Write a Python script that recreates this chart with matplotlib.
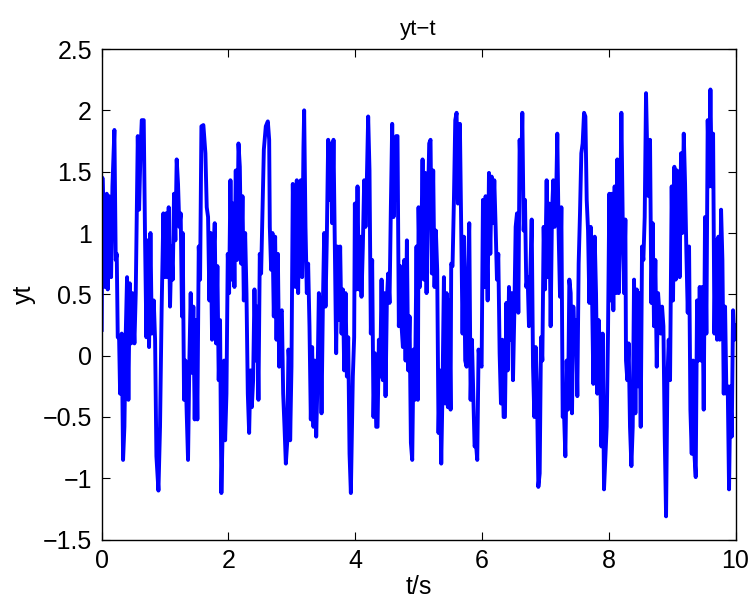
import matplotlib
matplotlib.use("Agg")
import matplotlib.pyplot as plt
from matplotlib.ticker import FuncFormatter

plt.rcParams['font.family'] = ['Liberation Sans', 'DejaVu Sans']

t = [
    0.000, 0.011, 0.053, 0.079, 0.095, 0.116, 0.148, 0.169, 0.200, 0.221, 0.237, 0.253, 0.274, 0.290, 0.316, 0.337,
    0.358, 0.379, 0.400, 0.421, 0.442, 0.463, 0.484, 0.516, 0.537, 0.569, 0.590, 0.611, 0.632, 0.663, 0.684, 0.705,
    0.726, 0.747, 0.769, 0.790, 0.821, 0.842, 0.863, 0.895,
    0.920, 0.946, 0.973, 0.994, 1.015, 1.036, 1.057, 1.078, 1.099, 1.120, 1.141, 1.162, 1.183, 1.204, 1.225, 1.246,
    1.267, 1.278, 1.299, 1.320, 1.341, 1.362, 1.383, 1.404, 1.425, 1.446, 1.467, 1.488, 1.509, 1.531, 1.552, 1.573,
    1.604, 1.636, 1.657, 1.678, 1.699, 1.720, 1.741, 1.762, 1.783, 1.804, 1.825, 1.846, 1.867, 1.888, 1.909, 1.931,
    1.947, 1.968, 1.989, 2.010, 2.031, 2.052, 2.073, 2.094, 2.115, 2.136, 2.158, 2.179, 2.200, 2.221, 2.242, 2.263,
    2.284, 2.305, 2.326, 2.347, 2.368, 2.389, 2.410, 2.431, 2.452, 2.473, 2.494, 2.515, 2.536, 2.558, 2.589, 2.621,
    2.642, 2.652, 2.673, 2.694, 2.715, 2.736, 2.758, 2.779, 2.800, 2.821, 2.842, 2.863, 2.884, 2.905, 2.926, 2.947, 2.968,
    2.973, 2.994, 3.015, 3.036, 3.057, 3.078, 3.099, 3.120, 3.141, 3.162, 3.183, 3.194, 3.215, 3.236, 3.257, 3.278,
    3.299, 3.320, 3.341, 3.362, 3.384, 3.405, 3.426, 3.447, 3.468, 3.489, 3.510, 3.531, 3.552, 3.573, 3.594, 3.615,
    3.636, 3.657, 3.678, 3.699, 3.720, 3.741, 3.762, 3.784, 3.805, 3.826, 3.847, 3.868, 3.889, 3.910, 3.931,
    3.962, 3.983, 3.994, 4.015, 4.036, 4.057, 4.078, 4.099, 4.120, 4.141, 4.162, 4.183, 4.204, 4.225, 4.246, 4.267,
    4.288, 4.309, 4.331, 4.352, 4.373, 4.394, 4.415, 4.436, 4.457, 4.478, 4.499, 4.520, 4.541, 4.562, 4.583, 4.604,
    4.625, 4.646, 4.667, 4.688, 4.709, 4.731, 4.752, 4.773, 4.794, 4.815, 4.836, 4.857, 4.878, 4.899, 4.920, 4.941,
    4.967, 4.988, 4.999, 5.020, 5.041, 5.062, 5.083, 5.104, 5.125, 5.146, 5.167, 5.188, 5.209, 5.230, 5.251, 5.272,
    5.293, 5.314, 5.335, 5.357, 5.378, 5.399, 5.420, 5.441, 5.462, 5.483, 5.504, 5.514, 5.535, 5.557, 5.578, 5.599,
    5.620, 5.651, 5.672, 5.693, 5.714, 5.735, 5.757, 5.778, 5.799, 5.820, 5.841, 5.862, 5.883, 5.904, 5.925, 5.946, 5.967,
    5.994, 6.015, 6.036, 6.057, 6.078, 6.089, 6.110, 6.131, 6.152, 6.173, 6.194, 6.215, 6.236, 6.257, 6.278, 6.299,
    6.320, 6.341, 6.362, 6.384, 6.405, 6.426, 6.447, 6.468, 6.489, 6.510, 6.531, 6.552, 6.573, 6.594, 6.615, 6.636,
    6.657, 6.678, 6.699, 6.720, 6.741, 6.762, 6.784, 6.805, 6.826, 6.847, 6.868, 6.889, 6.910, 6.931, 6.952, 6.973, 6.994,
    7.020, 7.041, 7.062, 7.083, 7.104, 7.125, 7.146, 7.167, 7.188, 7.209, 7.231, 7.252, 7.273, 7.294, 7.315, 7.336,
    7.357, 7.378, 7.399, 7.420, 7.441, 7.462, 7.483, 7.504, 7.525, 7.546, 7.567, 7.588, 7.610, 7.631, 7.652, 7.673,
    7.694, 7.715, 7.736, 7.757, 7.778, 7.799, 7.820, 7.841, 7.862, 7.883, 7.904, 7.925,
    7.967, 7.988, 8.009, 8.030, 8.051, 8.072, 8.093, 8.114, 8.135, 8.156, 8.178, 8.199, 8.220, 8.241, 8.262, 8.272,
    8.293, 8.314, 8.335, 8.357, 8.378, 8.399, 8.420, 8.441, 8.462, 8.483, 8.504, 8.525, 8.546, 8.567, 8.588, 8.609,
    8.630, 8.651, 8.672, 8.693, 8.714, 8.735, 8.757, 8.778, 8.799, 8.820, 8.841, 8.862, 8.883, 8.904, 8.925, 8.946, 8.967,
    8.993, 9.014, 9.035, 9.056, 9.077, 9.098, 9.119, 9.140, 9.161, 9.183, 9.204, 9.225, 9.246, 9.267, 9.288, 9.309,
    9.330, 9.351, 9.372, 9.393, 9.414, 9.435, 9.456, 9.477, 9.498, 9.519, 9.540, 9.561, 9.583, 9.604, 9.625, 9.646,
    9.667, 9.688, 9.709, 9.730, 9.751, 9.772, 9.793, 9.814, 9.835, 9.856, 9.877, 9.898, 9.919, 9.940, 9.961, 9.982, 10.000,
]

yt = [
    0.21, 1.45, 0.56, 1.32, 0.54, 1.30, 0.64, 1.38, 1.84, 0.78, 0.83, 0.15, 0.15, -0.31, 0.18, -0.85,
    -0.58, 0.18, 0.64, -0.36, 0.59, 0.10, 0.51, 0.10, 0.51, 1.79, 1.19, 1.65, 1.92, 1.92, 0.94, 0.15,
    0.94, 0.07, 1.00, 0.18, 0.45, 0.13, -0.82, -1.10,
    -0.58, 0.40, 1.16, 0.64, 1.16, 0.64, 1.21, 0.40, 0.89, 0.62, 1.32, 0.94, 1.60, 1.40, 1.05, 1.16,
    0.32, 1.00, -0.36, -0.04, -0.47, -0.85, -0.04, 0.51, -0.14, 0.40, -0.52, 0.29, -0.52, 0.89, 0.62, 1.87,
    1.88, 1.65, 1.21, 1.13, 0.45, 1.00, 0.13, 0.78, 1.08, 0.10, 0.73, -0.20, 0.29, -1.12, -0.58, -0.04,
    -0.69, -0.31, 0.83, 0.51, 1.43, 0.62, 1.24, 0.56, 1.51, 0.78, 1.73, 1.54, 0.75, 1.30, 0.45, 1.00,
    0.51, -0.31, -0.63, -0.12, -0.42, -0.20, 0.54, -0.04, 0.40, -0.36, 0.83, 0.67, 1.16, 1.68, 1.87, 1.91,
    1.76, 1.05, 0.70, 1.00, 0.32, 0.97, 0.13, 0.83, -0.09, 0.35, 0.37, -0.31, -0.58, -0.88, -0.71, 0.05, -0.14,
    -0.69, -0.09, 1.40, 0.73, 0.56, 1.43, 0.51, 1.38, 1.43, 0.64, 1.70, 2.00, 1.05, 0.51, 0.75, 0.24,
    -0.52, 0.07, -0.58, -0.04, -0.66, -0.20, 0.51, 0.40, -0.47, 0.40, 1.00, 0.40, 0.97, 1.76, 1.27, 1.73,
    1.08, 1.76, 0.89, 0.02, 0.89, 0.29, 0.89, 0.18, 0.54, -0.12, 0.51, -0.17, 0.15, -0.80, -1.12,
    -0.17, 0.15, 1.24, 0.54, 1.38, 0.54, 0.97, 0.48, 0.89, 1.43, 1.05, 1.43, 1.95, 1.51, 0.18, 0.78,
    -0.50, 0.02, -0.58, -0.58, 0.13, -0.17, 0.62, -0.20, 0.51, -0.33, 0.45, 0.67, 0.43, 1.21, 1.89, 1.13,
    1.43, 1.79, 1.79, 0.24, 0.73, 0.24, 0.07, 0.78, -0.04, 0.94, -0.12, 0.32, -0.71, -0.85, 0.05, -0.36,
    0.89, -0.36, 1.21, 0.56, 0.89, 1.60, 0.62, 1.49, 0.51, 1.21, 1.73, 1.76, 0.67, 1.51, 0.56, 1.02,
    0.70, -0.63, -0.12, -0.88, -0.25, 0.64, -0.39, 0.51, -0.42, 0.45, -0.44, 0.75, 0.73, 1.27, 1.92, 1.98,
    1.24, 1.89, 1.00, 0.18, 0.97, -0.04, -0.09, 0.67, 1.08, -0.36, 0.13, -0.31, -0.74, -0.71, -0.85, 0.05, -0.06,
    -0.09, 1.27, 0.56, 1.30, 0.78, 0.45, 1.49, 0.83, 1.46, 1.08, 1.43, 1.05, 0.62, 0.83, 0.02, -0.39,
    0.13, -0.50, -0.50, 0.43, -0.12, 0.56, 0.13, 0.51, -0.20, 0.35, 1.05, 1.16, 0.35, 1.76, 1.38, 1.98,
    1.02, 1.27, 0.56, 0.64, 0.24, 0.67, 1.11, -0.09, -0.50, 0.07, -0.31, -1.07, -0.96, 0.15, -0.04, 1.05, 0.54,
    1.43, 0.64, 1.24, 0.24, 1.16, 1.43, 1.05, 1.21, 1.81, 1.00, 0.48, 1.21, -0.50, -0.47, -0.82, -0.04,
    -0.44, 0.62, 0.51, -0.47, 0.40, 0.07, 0.29, -0.33, 0.75, 1.16, 1.65, 1.73, 1.98, 1.95, 1.27, 1.02,
    0.43, 1.05, 0.51, -0.23, 0.97, 0.51, -0.31, 0.29, 0.02, -0.74, 0.18, -1.09,
    -0.58, 0.18, 1.32, 0.45, 1.32, 0.37, 1.38, 0.51, 1.60, 0.51, 1.08, 1.98, 1.11, 0.51, 1.11, -0.04,
    -0.20, 0.10, -0.58, -0.90, -0.58, 0.62, -0.47, 0.54, -0.25, 0.51, -0.58, 0.89, 0.78, 1.13, 2.14, 1.60,
    1.30, 1.76, 0.43, 1.08, 0.24, 0.78, -0.09, 0.51, 0.35, 0.18, 0.40, 0.24, -0.66, -1.31, -0.20, 0.13, -0.20,
    1.38, 0.45, 1.54, 0.62, 1.51, 1.38, 0.64, 1.65, 1.00, 1.81, 1.40, 0.83, 0.35, 0.89, -0.44, -0.80,
    -0.04, -0.80, -0.99, 0.45, -0.04, 0.56, -0.04, 0.56, -0.44, 1.13, 0.18, 1.92, 1.38, 2.17, 1.38, 1.81,
    0.18, 0.94, 0.13, 0.97, 0.13, 1.19, 0.78, -0.31, 0.40, -0.31, -0.25, -1.09, -0.25, -0.66, 0.37, 0.13, 0.25,
]

x_ticks = [0, 2, 4, 6, 8, 10]
y_ticks = [-1.5, -1, -0.5, 0, 0.5, 1, 1.5, 2, 2.5]

fig = plt.figure(figsize=(7.54, 6.05), dpi=100)
ax = fig.add_axes([0.1349, 0.108, 0.8406, 0.811])
ax.plot(t, yt, color=(0, 0, 1), linewidth=2.8, solid_joinstyle='round')
ax.set_xlim(0, 10)
ax.set_ylim(-1.5, 2.5)
ax.set_xticks(x_ticks)
ax.set_yticks(y_ticks)
fmt = FuncFormatter(lambda v, p: ('%g' % v).replace('-', '\u2212'))
ax.xaxis.set_major_formatter(fmt)
ax.yaxis.set_major_formatter(fmt)
ax.tick_params(direction='in', length=6, width=0.8, top=True, right=True, labelsize=18)
ax.tick_params(axis='x', pad=7)
ax.tick_params(axis='y', pad=7)
for s in ax.spines.values():
    s.set_linewidth(1.0)
ax.set_xlabel('t/s', fontsize=18, labelpad=1)
ax.set_ylabel('yt', fontsize=18, labelpad=5)
ax.set_title('yt\u2212t', fontsize=16, pad=10)
fig.savefig('out.png', dpi=100)
